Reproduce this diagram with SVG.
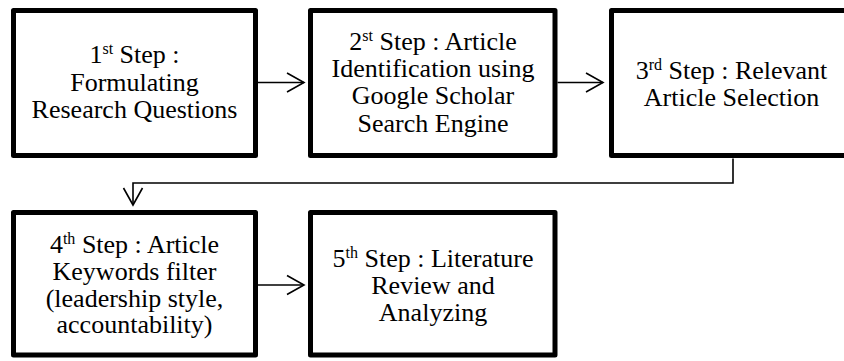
<svg xmlns="http://www.w3.org/2000/svg" width="844" height="361" viewBox="0 0 844 361">
<defs>
<marker id="ah" markerUnits="userSpaceOnUse" viewBox="-19 -11 21 22" markerWidth="21" markerHeight="22" refX="0" refY="0" orient="auto" overflow="visible">
<path d="M-17,-9.5 L0,0 L-17,9.5" fill="none" stroke="#000" stroke-width="1.6"/>
</marker>
</defs>
<rect width="844" height="361" fill="#fff"/>
<g id="connectors" fill="none" stroke="#000" stroke-width="1.6">
<path d="M258,82.5 H304" marker-end="url(#ah)"/>
<path d="M557.5,82.5 H603" marker-end="url(#ah)"/>
<path d="M733,158.5 V183 H133 V205" marker-end="url(#ah)"/>
<path d="M258,285 H304" marker-end="url(#ah)"/>
</g>
<g id="step1">
<rect x="13.5" y="10.5" width="242" height="145" fill="#fff" stroke="#000" stroke-width="5" stroke-linejoin="round"/>
<text x="134.5" y="63" font-family="Liberation Serif" font-size="26" text-anchor="middle">1<tspan font-size="16" dy="-9">st</tspan><tspan dy="9"> Step :</tspan></text>
<text x="134.5" y="91" font-family="Liberation Serif" font-size="26" text-anchor="middle">Formulating</text>
<text x="134.5" y="118" font-family="Liberation Serif" font-size="26" text-anchor="middle">Research Questions</text>
</g>
<g id="step2">
<rect x="310.5" y="10.5" width="244.5" height="145" fill="#fff" stroke="#000" stroke-width="5" stroke-linejoin="round"/>
<text x="433" y="50" font-family="Liberation Serif" font-size="26" text-anchor="middle">2<tspan font-size="16" dy="-9">st</tspan><tspan dy="9"> Step : Article</tspan></text>
<text x="433" y="77" font-family="Liberation Serif" font-size="26" text-anchor="middle">Identification using</text>
<text x="433" y="104" font-family="Liberation Serif" font-size="26" text-anchor="middle">Google Scholar</text>
<text x="433" y="132" font-family="Liberation Serif" font-size="26" text-anchor="middle">Search Engine</text>
</g>
<g id="step3">
<rect x="611.5" y="10.5" width="242" height="145" fill="#fff" stroke="#000" stroke-width="5" stroke-linejoin="round"/>
<text x="731.5" y="79" font-family="Liberation Serif" font-size="26" text-anchor="middle">3<tspan font-size="16" dy="-9">rd</tspan><tspan dy="9"> Step : Relevant</tspan></text>
<text x="731.5" y="106" font-family="Liberation Serif" font-size="26" text-anchor="middle">Article Selection</text>
</g>
<g id="step4">
<rect x="13.5" y="212.5" width="242" height="142.5" fill="#fff" stroke="#000" stroke-width="5" stroke-linejoin="round"/>
<text x="134.5" y="253" font-family="Liberation Serif" font-size="26" text-anchor="middle">4<tspan font-size="16" dy="-9">th</tspan><tspan dy="9"> Step : Article</tspan></text>
<text x="134.5" y="280" font-family="Liberation Serif" font-size="26" text-anchor="middle">Keywords filter</text>
<text x="134.5" y="307" font-family="Liberation Serif" font-size="26" text-anchor="middle">(leadership style,</text>
<text x="134.5" y="333" font-family="Liberation Serif" font-size="26" text-anchor="middle">accountability)</text>
</g>
<g id="step5">
<rect x="310.5" y="212.5" width="244.5" height="142.5" fill="#fff" stroke="#000" stroke-width="5" stroke-linejoin="round"/>
<text x="433" y="267" font-family="Liberation Serif" font-size="26" text-anchor="middle">5<tspan font-size="16" dy="-9">th</tspan><tspan dy="9"> Step : Literature</tspan></text>
<text x="433" y="294" font-family="Liberation Serif" font-size="26" text-anchor="middle">Review and</text>
<text x="433" y="321" font-family="Liberation Serif" font-size="26" text-anchor="middle">Analyzing</text>
</g>
</svg>
